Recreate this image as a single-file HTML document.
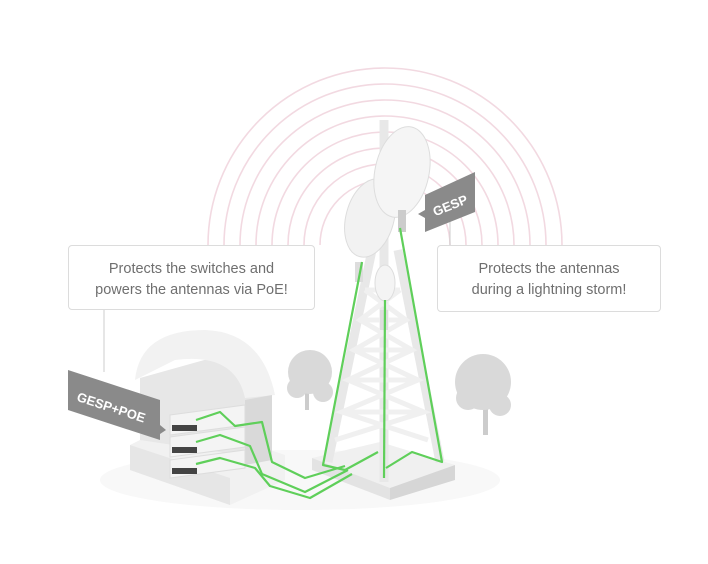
<!DOCTYPE html>
<html><head><style>
html,body{margin:0;padding:0;background:#fff;}
.box{position:absolute;background:#fff;border:1px solid #dcdcdc;border-radius:4px;font-family:"Liberation Sans",sans-serif;font-size:14.5px;color:#6f6f6f;text-align:center;line-height:21px;box-sizing:border-box;padding-top:13px;}
</style></head><body>
<div style="position:relative;width:708px;height:564px;overflow:hidden;">
<svg width="708" height="564" style="position:absolute;left:0;top:0">
<g fill="none" stroke="#f2d9e1" stroke-width="1.6">
<path d="M208 245 A177 177 0 0 1 562 245"/>
<path d="M224 245 A161 161 0 0 1 546 245"/>
<path d="M240 245 A145 145 0 0 1 530 245"/>
<path d="M256 245 A129 129 0 0 1 514 245"/>
<path d="M272 245 A113 113 0 0 1 498 245"/>
<path d="M288 245 A97 97 0 0 1 482 245"/>
<path d="M304 245 A81 81 0 0 1 466 245"/>
<path d="M320 245 A65 65 0 0 1 450 245"/>
</g>
<line x1="104" y1="310" x2="104" y2="372" stroke="#ccc"/>
<line x1="450" y1="215" x2="450" y2="246" stroke="#ccc"/>
<ellipse cx="300" cy="480" rx="200" ry="30" fill="#f8f8f8"/>
<!-- building -->
<polygon points="130,470 230,505 285,480 285,455 180,420 130,445" fill="#f1f1f1"/>
<polygon points="130,445 230,478 230,505 130,470" fill="#e6e6e6"/>
<polygon points="140,378 240,350 272,395 272,460 140,440" fill="#e7e7e7"/>
<path d="M135 380 Q140 330 205 330 Q262 332 275 395 L245 398 Q235 352 175 360 Z" fill="#f2f2f2"/>
<polygon points="245,400 272,395 272,460 245,465" fill="#d9d9d9"/>
<g>
<polygon points="170,415 245,405 245,425 170,435" fill="#f4f4f4" stroke="#ddd"/>
<polygon points="170,437 245,427 245,447 170,457" fill="#f4f4f4" stroke="#ddd"/>
<polygon points="170,460 245,450 245,468 170,478" fill="#f4f4f4" stroke="#ddd"/>
<rect x="172" y="425" width="25" height="6" fill="#444"/>
<rect x="172" y="447" width="25" height="6" fill="#444"/>
<rect x="172" y="468" width="25" height="6" fill="#444"/>
</g>
<g fill="#d9d9d9">
<rect x="305" y="380" width="4" height="30" fill="#ccc"/>
<circle cx="310" cy="372" r="22"/><circle cx="297" cy="388" r="10"/><circle cx="323" cy="392" r="10"/>
<rect x="483" y="390" width="5" height="45" fill="#ccc"/>
<circle cx="483" cy="382" r="28"/><circle cx="468" cy="398" r="12"/><circle cx="500" cy="405" r="11"/>
</g>
<!-- tower base -->
<polygon points="312,458 380,442 455,465 390,488" fill="#f0f0f0"/>
<polygon points="312,458 390,488 390,500 312,470" fill="#e3e3e3"/>
<polygon points="390,488 455,465 455,480 390,500" fill="#d6d6d6"/>
<!-- tower legs -->
<g stroke="#e8e8e8" stroke-width="9" fill="none" stroke-linejoin="round">
<line x1="372" y1="250" x2="328" y2="462"/>
<line x1="398" y1="250" x2="440" y2="462"/>
<line x1="384" y1="120" x2="384" y2="482"/>
</g>
<g stroke="#f0f0f0" stroke-width="5" fill="none">
<path d="M365 290 H400 M360 320 H406 M354 350 H412 M348 380 H418 M342 412 H424"/>
<path d="M365 290 L406 320 L354 350 L418 380 L342 412 L428 440"/>
<path d="M400 290 L360 320 L412 350 L348 380 L424 412 L335 440"/>
</g>
<!-- antennas -->
<ellipse cx="370" cy="218" rx="24" ry="40" transform="rotate(15 370 218)" fill="#f2f2f2" stroke="#ddd"/>
<ellipse cx="402" cy="172" rx="27" ry="46" transform="rotate(12 402 172)" fill="#f5f5f5" stroke="#ddd"/>
<ellipse cx="385" cy="283" rx="10" ry="18" fill="#f4f4f4" stroke="#ddd"/>
<rect x="355" y="262" width="8" height="20" fill="#ddd"/>
<rect x="398" y="210" width="8" height="22" fill="#ccc"/>
<rect x="380" y="310" width="8" height="20" fill="#ddd"/>
<!-- green cables -->
<g stroke="#5fcf5a" stroke-width="2.2" fill="none" stroke-linejoin="round">
<path d="M362 262 L323 465 L345 470 L378 452"/>
<path d="M400 228 L442 462 L412 452 L386 468"/>
<path d="M385 300 L384 478"/>
<path d="M196 420 L220 412 L235 426 L262 422 L272 462 L305 478 L345 466"/>
<path d="M196 442 L220 435 L250 446 L262 474 L305 492 L348 470"/>
<path d="M196 464 L220 458 L255 468 L270 486 L310 498 L352 474"/>
</g>
<polygon points="425,195 475,172 475,212 425,232 425,218 418,214 425,210" fill="#8a8a8a"/>
<text x="450" y="210" transform="rotate(-22 450 205)" font-family="Liberation Sans" font-weight="bold" font-size="13" fill="#fff" text-anchor="middle">GESP</text>
<polygon points="68,370 160,400 160,425 166,430 160,434 160,440 68,410" fill="#8a8a8a"/>
<text x="112" y="412" transform="rotate(18 112 405)" font-family="Liberation Sans" font-weight="bold" font-size="13" fill="#fff" text-anchor="middle">GESP+POE</text>
</svg>
<div class="box" style="left:68px;top:245px;width:247px;height:65px;">Protects the switches and<br>powers the antennas via PoE!</div>
<div class="box" style="left:437px;top:245px;width:224px;height:67px;">Protects the antennas<br>during a lightning storm!</div>
</div>
</body></html>
